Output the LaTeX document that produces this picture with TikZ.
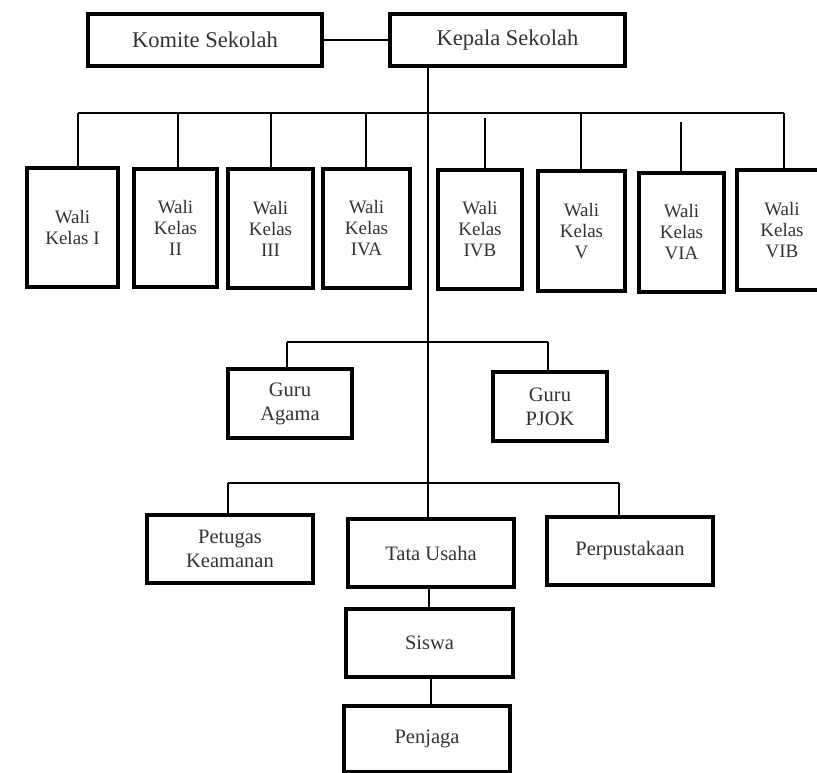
\documentclass[tikz,border=0pt]{standalone}
\usepackage{fontspec}
\setmainfont{Liberation Serif}
\begin{document}
\begin{tikzpicture}[x=1pt,y=-1pt,
  box/.style={draw=black,line width=3.2pt,fill=white,rectangle,inner sep=0pt,align=center,
    text=black!80,font=\fontsize{19}{21}\selectfont},
  topbox/.style={box,font=\fontsize{22.5}{25}\selectfont},
  midbox/.style={box,font=\fontsize{20.5}{24}\selectfont},
  link/.style={draw=black,line width=2.2pt}]
\useasboundingbox (0,0) rectangle (817,773);
\clip (0,0) rectangle (817,773);
% top
\node[topbox,minimum width=234,minimum height=52] (komite) at (205,40) {Komite Sekolah};
\node[topbox,minimum width=235,minimum height=52] (kepala) at (507.5,40) {Kepala Sekolah};
% wali kelas
\node[box,minimum width=91,minimum height=119] (w1) at (72.5,227.5) {Wali\\Kelas I};
\node[box,minimum width=83,minimum height=118] (w2) at (175.5,228) {Wali\\Kelas\\II};
\node[box,minimum width=85,minimum height=119] (w3) at (270.5,228.5) {Wali\\Kelas\\III};
\node[box,minimum width=87,minimum height=119] (w4) at (366.5,228.5) {Wali\\Kelas\\IVA};
\node[box,minimum width=84,minimum height=119] (w5) at (480,229.5) {Wali\\Kelas\\IVB};
\node[box,minimum width=87,minimum height=120] (w6) at (581.5,231) {Wali\\Kelas\\V};
\node[box,minimum width=85,minimum height=119] (w7) at (681.5,232.5) {Wali\\Kelas\\VIA};
\node[box,minimum width=90,minimum height=120] (w8) at (782,230) {Wali\\Kelas\\VIB};
% guru
\node[midbox,minimum width=124,minimum height=69] (agama) at (290,403.5) {Guru\\Agama};
\node[midbox,minimum width=114,minimum height=69] (pjok) at (550,406.5) {Guru\\PJOK};
% lower
\node[midbox,minimum width=166,minimum height=68] (petugas) at (230,549) {Petugas\\Keamanan};
\node[midbox,minimum width=166,minimum height=68] (tata) at (431,553) {Tata Usaha};
\node[midbox,minimum width=166,minimum height=68] (perpus) at (630,551) {Perpustakaan};
\node[midbox,minimum width=167,minimum height=68] (siswa) at (429.5,643) {Siswa};
\node[midbox,minimum width=166,minimum height=66] (penjaga) at (427,739) {Penjaga};
% bus coordinates
\coordinate (busL) at (78,113);
\coordinate (busR) at (784,113);
\coordinate (gL) at (287,342);
\coordinate (gR) at (548,342);
\coordinate (lL) at (228,483);
\coordinate (lR) at (619,483);
% connectors
\draw[link] (komite.east) -- (kepala.west);
\draw[link] (428,0 |- kepala.south) -- (428,0 |- tata.north);
\draw[link] (busL) -- (busR);
\draw[link] (busL) -- (78,0 |- w1.north);
\draw[link] (178,113) -- (178,0 |- w2.north);
\draw[link] (271,113) -- (271,0 |- w3.north);
\draw[link] (366,113) -- (366,0 |- w4.north);
\draw[link] (485,118) -- (485,0 |- w5.north);
\draw[link] (581,113) -- (581,0 |- w6.north);
\draw[link] (681,122) -- (681,0 |- w7.north);
\draw[link] (busR) -- (784,0 |- w8.north);
\draw[link] (gL) -- (gR);
\draw[link] (gL) -- (287,0 |- agama.north);
\draw[link] (gR) -- (548,0 |- pjok.north);
\draw[link] (lL) -- (lR);
\draw[link] (lL) -- (228,0 |- petugas.north);
\draw[link] (lR) -- (619,0 |- perpus.north);
\draw[link] (429,0 |- tata.south) -- (429,0 |- siswa.north);
\draw[link] (431,0 |- siswa.south) -- (431,0 |- penjaga.north);
\end{tikzpicture}
\end{document}
